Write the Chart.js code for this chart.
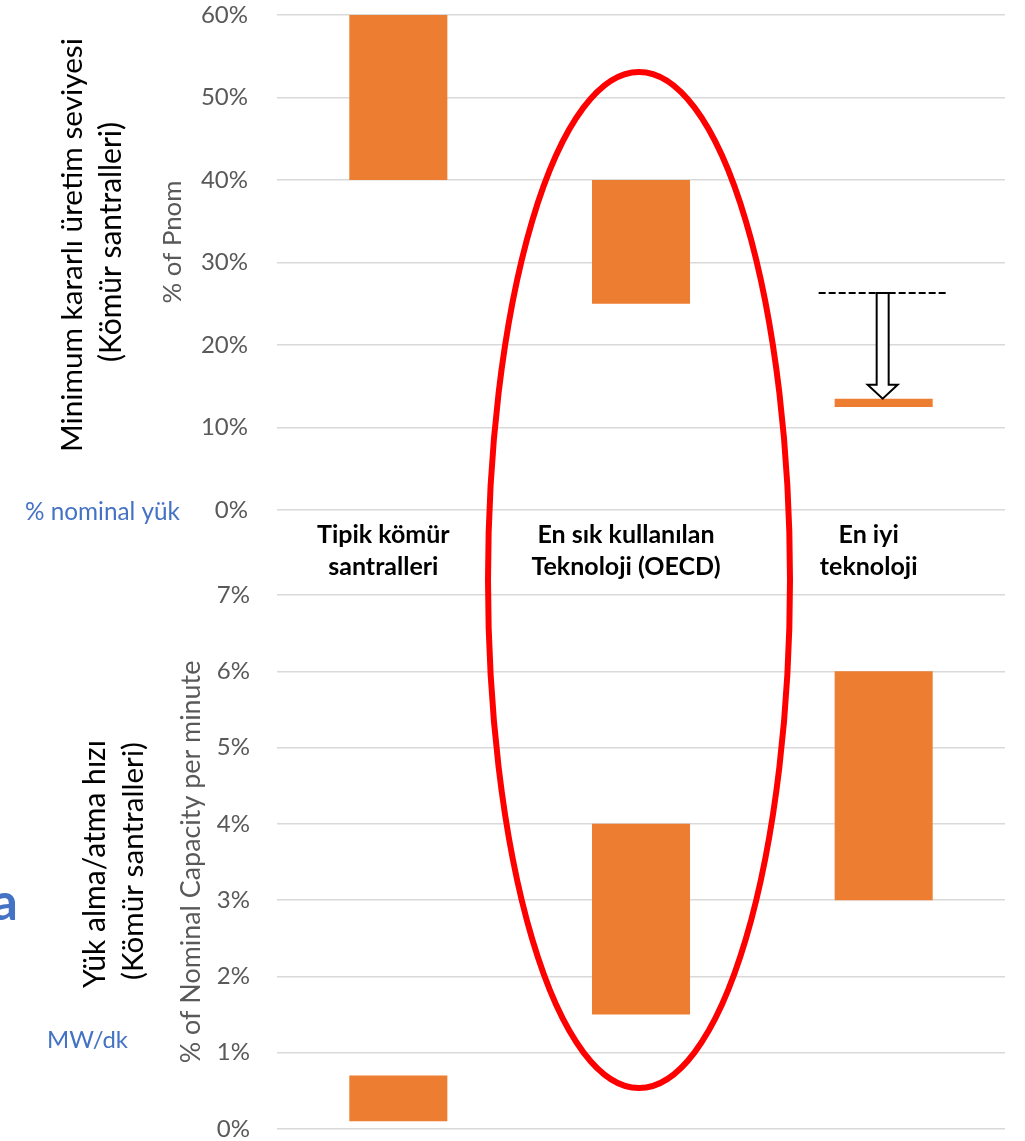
<!DOCTYPE html>
<html>
<head>
<meta charset="utf-8">
<script src="https://cdn.jsdelivr.net/npm/chart.js@4.4.1/dist/chart.umd.min.js"></script>
<style>
  html, body { margin: 0; padding: 0; background: #ffffff; }
  #wrap { width: 1025px; height: 1141px; position: relative; }
</style>
</head>
<body>
<div id="wrap"><canvas id="chart" width="1025" height="1141"></canvas></div>
<script>
// Plant categories (two-line labels)
const categories = [
  ['Tipik kömür', 'santralleri'],
  ['En sık kullanılan', 'Teknoloji (OECD)'],
  ['En iyi', 'teknoloji']
];

// Minimum stable generation level, % of Pnom (floating range per category)
const minLoadLow  = [40, 25, 12.5];
const minLoadHigh = [60, 40, 13.5];

// Ramp rate, % of nominal capacity per minute (floating range per category)
const rampLow  = [0.1, 1.5, 3];
const rampHigh = [0.7, 4.0, 6];

// Tick values for both panels
const minLoadTicks = [0, 10, 20, 30, 40, 50, 60];
const rampTicks    = [0, 1, 2, 3, 4, 5, 6, 7];

// Earlier best-technology level, pointed down to the current one
const previousBestLevel = 26.3;

const ORANGE = '#ED7D31';
const GRID = '#d9d9d9';
const TICK_GRAY = '#595959';
const BLUE = '#4472C4';

// the ramp panel extends above 7% to leave room for the category labels
const rampAxisMax = 7 + 85 / 76.3;

function pct(v) { return v + '%'; }

// Draws text rotated by -90°, scaled to span a given length
function vText(ctx, text, cx, cy, length, family, weight, color) {
  ctx.save();
  ctx.font = weight + ' 40px ' + family;
  const w = ctx.measureText(text).width;
  const size = 40 * length / w;
  ctx.font = weight + ' ' + size.toFixed(2) + 'px ' + family;
  ctx.translate(cx, cy);
  ctx.rotate(-Math.PI / 2);
  ctx.fillStyle = color;
  ctx.textAlign = 'center';
  ctx.textBaseline = 'middle';
  ctx.fillText(text, 0, 0);
  ctx.restore();
}

function hText(ctx, text, x, cy, length, family, weight, color, align) {
  ctx.save();
  ctx.font = weight + ' 40px ' + family;
  const w = ctx.measureText(text).width;
  const size = 40 * length / w;
  ctx.font = weight + ' ' + size.toFixed(2) + 'px ' + family;
  ctx.fillStyle = color;
  ctx.textAlign = align || 'left';
  ctx.textBaseline = 'middle';
  ctx.fillText(text, x, cy);
  ctx.restore();
}

const overlay = {
  id: 'overlay',
  afterDraw(chart) {
    const ctx = chart.ctx;
    const xs = chart.scales.x;
    const yTop = chart.scales.yTop;

    // Axis titles and side notes
    vText(ctx, 'Minimum kararlı üretim seviyesi', 72, 245, 414, 'Lato', 'normal', '#000');
    vText(ctx, '(Kömür santralleri)', 111, 242, 240, 'Lato', 'normal', '#000');
    vText(ctx, '% of Pnom', 173, 242, 123, 'Lato', 'normal', TICK_GRAY);
    vText(ctx, 'Yük alma/atma hızı', 95, 864, 248, 'Lato', 'normal', '#000');
    vText(ctx, '(Kömür santralleri)', 133, 861, 238, 'Lato', 'normal', '#000');
    vText(ctx, '% of Nominal Capacity per minute', 191, 862, 403, 'Lato', 'normal', TICK_GRAY);
    hText(ctx, '% nominal yük', 25, 512, 155, 'Lato', 'normal', BLUE);
    hText(ctx, 'MW/dk', 47, 1040, 81, 'Lato', 'normal', BLUE);
    ctx.save();
    ctx.font = 'bold 52px Lato';
    ctx.fillStyle = BLUE;
    ctx.textAlign = 'right';
    ctx.textBaseline = 'alphabetic';
    ctx.fillText('a', 18, 920);
    ctx.restore();

    // Dashed reference level and hollow arrow down to the best technology bar
    const ax = xs.getPixelForValue(2) - 1;
    const yFrom = yTop.getPixelForValue(previousBestLevel);
    const yTo = yTop.getPixelForValue(minLoadHigh[2]);
    ctx.save();
    ctx.strokeStyle = '#000';
    ctx.lineWidth = 2;
    ctx.setLineDash([7, 3]);
    ctx.beginPath();
    ctx.moveTo(ax - 64, yFrom);
    ctx.lineTo(ax + 64, yFrom);
    ctx.stroke();
    ctx.setLineDash([]);
    const sw = 6, hw = 15, hh = 14;
    ctx.beginPath();
    ctx.moveTo(ax - sw, yFrom);
    ctx.lineTo(ax + sw, yFrom);
    ctx.lineTo(ax + sw, yTo - hh);
    ctx.lineTo(ax + hw, yTo - hh);
    ctx.lineTo(ax, yTo);
    ctx.lineTo(ax - hw, yTo - hh);
    ctx.lineTo(ax - sw, yTo - hh);
    ctx.closePath();
    ctx.fillStyle = '#fff';
    ctx.fill();
    ctx.stroke();
    ctx.restore();

    // Red ellipse around the OECD column
    ctx.save();
    ctx.strokeStyle = '#FF0000';
    ctx.lineWidth = 6;
    ctx.beginPath();
    ctx.ellipse(xs.getPixelForValue(1) - 2, 580, 151, 508, 0, 0, Math.PI * 2);
    ctx.stroke();
    ctx.restore();
  }
};

const tickFont = { family: 'Lato', size: 24 };

// vertical axes: fixed width, and no extra padding for the end labels
function fitLeftAxis(s) {
  s.width = 277;
  s.paddingTop = 0;
  s.paddingBottom = 0;
}

new Chart(document.getElementById('chart'), {
  type: 'bar',
  data: {
    labels: categories,
    datasets: [
      {
        label: 'Minimum kararlı üretim seviyesi',
        data: categories.map((_, i) => [minLoadLow[i], minLoadHigh[i]]),
        yAxisID: 'yTop',
        backgroundColor: ORANGE,
        grouped: false,
        categoryPercentage: 1,
        barPercentage: 0.404
      },
      {
        label: 'Yük alma/atma hızı',
        data: categories.map((_, i) => [rampLow[i], rampHigh[i]]),
        yAxisID: 'yBot',
        backgroundColor: ORANGE,
        grouped: false,
        categoryPercentage: 1,
        barPercentage: 0.404
      }
    ]
  },
  options: {
    responsive: false,
    animation: false,
    devicePixelRatio: 1,
    layout: { padding: { left: 0, right: 20, top: 15, bottom: 12 } },
    plugins: { legend: { display: false }, tooltip: { enabled: false } },
    scales: {
      x: {
        type: 'category',
        position: { yTop: 0 },
        offset: true,
        grid: { display: false },
        border: { display: false },
        afterFit: s => { s.height = 0; s.paddingLeft = 0; s.paddingRight = 0; },
        ticks: {
          color: '#000',
          font: { family: 'Lato', size: 25, weight: 'bold', lineHeight: 1.28 },
          padding: 1,
          labelOffset: -15,
          maxRotation: 0,
          autoSkip: false
        }
      },
      yTop: {
        type: 'linear',
        position: 'left',
        stack: 'panels',
        stackWeight: 495,
        weight: 1,
        min: 0,
        max: 60,
        afterBuildTicks: s => { s.ticks = minLoadTicks.map(v => ({ value: v })); },
        afterFit: fitLeftAxis,
        grid: { color: GRID, lineWidth: 1.5, drawTicks: false },
        border: { display: false },
        ticks: { callback: pct, color: TICK_GRAY, font: tickFont, padding: 29 }
      },
      yBot: {
        type: 'linear',
        position: 'left',
        stack: 'panels',
        stackWeight: 619,
        weight: 0,
        min: 0,
        max: rampAxisMax,
        afterBuildTicks: s => { s.ticks = rampTicks.map(v => ({ value: v })); },
        afterFit: fitLeftAxis,
        grid: { color: GRID, lineWidth: 1.5, drawTicks: false },
        border: { display: false },
        ticks: { callback: pct, color: TICK_GRAY, font: tickFont, padding: 27 }
      }
    }
  },
  plugins: [overlay]
});
</script>
</body>
</html>
